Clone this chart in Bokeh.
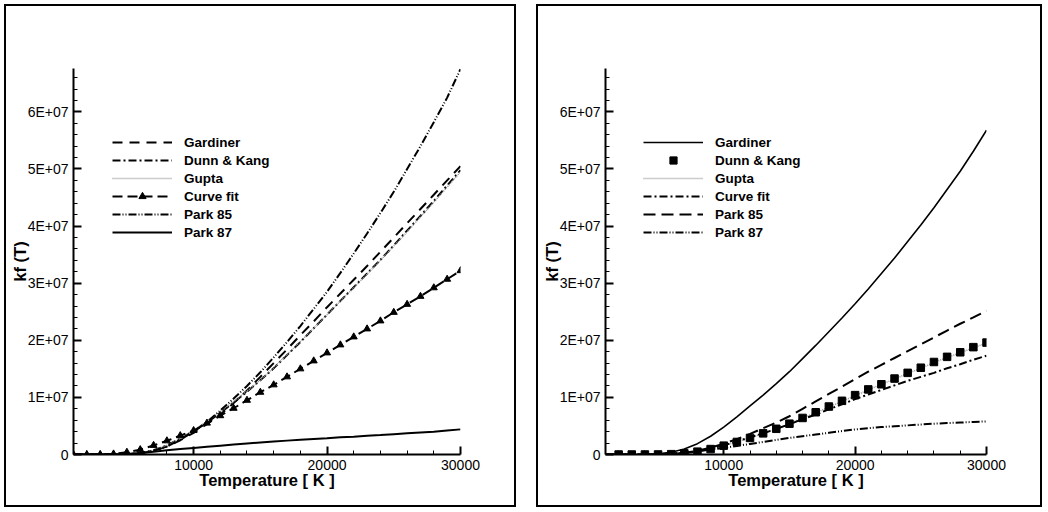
from bokeh.plotting import figure
from bokeh.models import FixedTicker, Legend, LegendItem, Range1d
from bokeh.layouts import row
from bokeh.embed import file_html
from bokeh.resources import INLINE

# Temperature grid [K]
temps = [1000, 2000, 3000, 4000, 5000, 6000, 7000, 8000, 9000, 10000,
         11000, 12000, 13000, 14000, 15000, 16000, 17000, 18000, 19000, 20000,
         21000, 22000, 23000, 24000, 25000, 26000, 27000, 28000, 29000, 30000]
temps_from_2000 = temps[1:]

# Rate coefficients, in units of 1e6
left_gardiner = [0, 0, 0, 0.003, 0.04, 0.2, 0.65, 1.4, 2.5, 3.8, 5.3, 7.0, 9.0, 11.2, 13.6,
                 16.0, 18.4, 20.9, 23.3, 25.8, 28.2, 30.6, 33.0, 35.5, 38.0, 40.5, 43.0, 45.5, 48.0, 50.5]
left_dunn_kang = [0, 0, 0, 0.005, 0.05, 0.25, 0.75, 1.6, 2.8, 4.1, 5.6, 7.3, 9.1, 11.0, 13.0,
                  15.1, 17.4, 19.7, 22.1, 24.5, 26.9, 29.3, 31.7, 34.1, 36.6, 39.2, 41.8, 44.4, 47.1, 49.8]
left_gupta = [0, 0, 0, 0.005, 0.05, 0.25, 0.75, 1.6, 2.8, 4.2, 5.8, 7.5, 9.3, 11.1, 13.0,
              15.2, 17.5, 19.8, 22.1, 24.5, 26.9, 29.2, 31.6, 34.0, 36.5, 39.0, 41.6, 44.2, 46.8, 49.5]
left_curve_fit = [0, 0, 0.02, 0.1, 0.4, 0.85, 1.6, 2.4, 3.3, 4.2, 5.5, 6.8, 8.1, 9.5, 10.9,
                  12.2, 13.6, 15.0, 16.4, 17.8, 19.2, 20.6, 22.0, 23.4, 24.9, 26.3, 27.7, 29.2, 30.7, 32.2]
left_park85 = [0, 0, 0, 0.005, 0.05, 0.22, 0.65, 1.4, 2.6, 4.0, 5.7, 7.7, 9.8, 12.0, 14.4,
               17.0, 19.7, 22.5, 25.5, 28.5, 31.8, 35.2, 38.7, 42.3, 46.0, 50.0, 54.0, 58.2, 62.5, 67.5]
left_park87 = [0, 0, 0, 0.01, 0.08, 0.25, 0.5, 0.75, 0.95, 1.15, 1.35, 1.55, 1.75, 1.93, 2.1,
               2.27, 2.43, 2.58, 2.72, 2.85, 3.0, 3.13, 3.27, 3.4, 3.55, 3.7, 3.85, 4.0, 4.2, 4.4]

right_gardiner = [0, 0, 0, 0.02, 0.12, 0.4, 0.95, 1.9, 3.2, 4.8, 6.6, 8.5, 10.4, 12.4, 14.5,
                  16.8, 19.1, 21.5, 23.9, 26.4, 29.0, 31.7, 34.4, 37.3, 40.2, 43.2, 46.4, 49.6, 53.1, 56.8]
right_dunn_kang = [0, 0, 0, 0.01, 0.06, 0.2, 0.5, 0.95, 1.55, 2.2, 2.9, 3.7, 4.5, 5.4,
                   6.4, 7.4, 8.4, 9.4, 10.4, 11.4, 12.3, 13.3, 14.3, 15.2, 16.2, 17.1, 17.9, 18.8, 19.6]
right_gupta = [0, 0, 0, 0, 0.01, 0.06, 0.2, 0.5, 0.95, 1.55, 2.2, 2.9, 3.7, 4.5, 5.4,
               6.4, 7.3, 8.3, 9.3, 10.3, 11.3, 12.3, 13.2, 14.2, 15.1, 16.1, 17.0, 17.8, 18.7, 19.5]
right_curve_fit = [0, 0, 0, 0, 0.02, 0.08, 0.25, 0.55, 1.0, 1.6, 2.3, 3.0, 3.7, 4.5, 5.3,
                   6.2, 7.0, 7.9, 8.8, 9.7, 10.5, 11.3, 12.1, 12.9, 13.6, 14.3, 15.1, 15.8, 16.6, 17.3]
right_park85 = [0, 0, 0, 0, 0.02, 0.1, 0.3, 0.65, 1.2, 1.9, 2.7, 3.6, 4.6, 5.6, 6.7,
                8.0, 9.3, 10.6, 11.9, 13.2, 14.5, 15.7, 16.9, 18.1, 19.3, 20.5, 21.7, 22.9, 24.0, 25.2]
right_park87 = [0, 0, 0, 0.005, 0.04, 0.15, 0.35, 0.6, 0.85, 1.15, 1.5, 1.85, 2.2, 2.55, 2.9,
                3.2, 3.5, 3.8, 4.1, 4.4, 4.6, 4.8, 4.95, 5.1, 5.25, 5.4, 5.5, 5.6, 5.7, 5.8]

x_ticks = [10000, 20000, 30000]
x_minor = [2000, 4000, 6000, 8000, 12000, 14000, 16000, 18000, 22000, 24000, 26000, 28000]
y_ticks = [0, 1e7, 2e7, 3e7, 4e7, 5e7, 6e7]
y_tick_labels = ["0", "1E+07", "2E+07", "3E+07", "4E+07", "5E+07", "6E+07"]
y_minor = [v * 2e6 for v in range(1, 34)]

SCALE = 1e6
FONT = "Liberation Sans"
GRAY = "#9a9a9a"


def scaled(vals):
    return [v * SCALE for v in vals]


def make_panel(width, margin):
    p = figure(width=width, height=503, output_backend="svg", toolbar_location=None,
               x_range=Range1d(1000, 30000), y_range=Range1d(0, 6.76e7),
               min_border_left=67, min_border_right=58, min_border_top=62, min_border_bottom=55)
    p.margin = margin
    p.styles = {"border": "2px solid black"}
    p.outline_line_color = None
    p.grid.visible = False
    p.background_fill_color = "white"
    p.border_fill_color = "white"

    xa, ya = p.xaxis[0], p.yaxis[0]
    xa.ticker = FixedTicker(ticks=x_ticks, minor_ticks=x_minor)
    ya.ticker = FixedTicker(ticks=y_ticks, minor_ticks=y_minor)
    ya.major_label_overrides = dict(zip(y_ticks, y_tick_labels))
    xa.major_label_overrides = {t: str(t) for t in x_ticks}
    for ax in (xa, ya):
        ax.axis_line_width = 2
        ax.axis_line_color = "black"
        ax.major_tick_in = 8
        ax.major_tick_out = 0
        ax.minor_tick_in = 4
        ax.minor_tick_out = 0
        ax.major_tick_line_width = 2
        ax.minor_tick_line_width = 1
        ax.major_tick_line_color = "black"
        ax.minor_tick_line_color = "black"
        ax.major_label_text_font = FONT
        ax.major_label_text_font_size = "14px"
        ax.major_label_text_color = "black"
        ax.major_label_standoff = 5
        ax.axis_label_text_font = FONT
        ax.axis_label_text_font_style = "bold"
        ax.axis_label_text_font_size = "16.5px"
        ax.axis_label_text_color = "black"
    xa.axis_label = "Temperature [ K ]"
    xa.axis_label_standoff = -2
    ya.axis_label = "kf (T)"
    ya.axis_label_standoff = -4
    return p


def add_legend(p, items, x_off):
    leg = Legend(items=items, location=(x_off, 213), padding=0, margin=0, spacing=0,
                 glyph_width=60, glyph_height=18, label_height=18, label_standoff=12,
                 label_text_font=FONT, label_text_font_style="bold",
                 label_text_font_size="13.5px", label_text_color="black",
                 border_line_color=None, background_fill_alpha=0)
    p.add_layout(leg, "center")


# Left panel
p1 = make_panel(512, (4, 0, 0, 4))
l_g = p1.line(temps, scaled(left_gardiner), line_color="black", line_width=2, line_dash="10 7")
l_d = p1.line(temps, scaled(left_dunn_kang), line_color="black", line_width=2, line_dash="8 3 2 3")
l_u = p1.line(temps, scaled(left_gupta), line_color=GRAY, line_width=1.5, line_dash="1 1")
l_c = p1.line(temps, scaled(left_curve_fit), line_color="black", line_width=2, line_dash="10 5")
l_cm = p1.scatter(temps, scaled(left_curve_fit), marker="triangle", size=7,
                  fill_color="black", line_color="black")
l_p5 = p1.line(temps, scaled(left_park85), line_color="black", line_width=2, line_dash="8 2 1 2 1 2")
l_p7 = p1.line(temps, scaled(left_park87), line_color="black", line_width=2)
add_legend(p1, [
    LegendItem(label="Gardiner", renderers=[l_g]),
    LegendItem(label="Dunn & Kang", renderers=[l_d]),
    LegendItem(label="Gupta", renderers=[l_u]),
    LegendItem(label="Curve fit", renderers=[l_c, l_cm]),
    LegendItem(label="Park 85", renderers=[l_p5]),
    LegendItem(label="Park 87", renderers=[l_p7]),
], 39)

# Right panel
p2 = make_panel(506, (4, 0, 0, 20))
r_g = p2.line(temps, scaled(right_gardiner), line_color="black", line_width=1.6)
r_u = p2.line(temps, scaled(right_gupta), line_color=GRAY, line_width=1.5, line_dash="1 1")
r_d = p2.scatter(temps_from_2000, scaled(right_dunn_kang), marker="square", size=7.5,
                 fill_color="black", line_color="black")
r_c = p2.line(temps, scaled(right_curve_fit), line_color="black", line_width=2, line_dash="8 3 2 3")
r_p5 = p2.line(temps, scaled(right_park85), line_color="black", line_width=2, line_dash="12 6")
r_p7 = p2.line(temps, scaled(right_park87), line_color="black", line_width=2, line_dash="8 2 1 2 1 2")
add_legend(p2, [
    LegendItem(label="Gardiner", renderers=[r_g]),
    LegendItem(label="Dunn & Kang", renderers=[r_d]),
    LegendItem(label="Gupta", renderers=[r_u]),
    LegendItem(label="Curve fit", renderers=[r_c]),
    LegendItem(label="Park 85", renderers=[r_p5]),
    LegendItem(label="Park 87", renderers=[r_p7]),
], 38)

layout = row(p1, p2)
open("out.html", "w").write(file_html(layout, INLINE))
